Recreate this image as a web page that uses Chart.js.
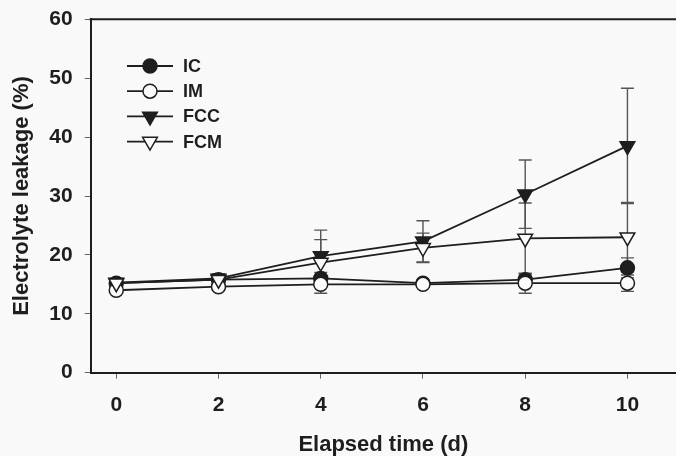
<!DOCTYPE html>
<html>
<head>
<meta charset="utf-8">
<script src="https://cdn.jsdelivr.net/npm/chart.js@4.4.0/dist/chart.umd.min.js"></script>
<style>
  html, body { margin: 0; padding: 0; background: #f9f9f9; }
  #wrap { width: 676px; height: 456px; position: relative; }
</style>
</head>
<body>
<div id="wrap"><canvas id="leakChart"></canvas></div>
<script>
// Electrolyte leakage vs elapsed time (mean +/- SD)
const days = [0, 2, 4, 6, 8, 10];
const xTicks = [0, 2, 4, 6, 8, 10];
const yTicks = [0, 10, 20, 30, 40, 50, 60];

const icMean = [15.2, 15.8, 16.0, 15.2, 15.8, 17.8];
const icErr = [0.5, 0.8, 1.0, 0.5, 0.8, 1.7];
const imMean = [14.0, 14.6, 15.0, 15.0, 15.2, 15.2];
const imErr = [0.5, 0.6, 1.5, 0.5, 1.7, 1.4];
const fccMean = [15.3, 16.0, 19.8, 22.3, 30.3, 38.5];
const fccErr = [0.7, 0.8, 4.4, 3.5, 5.8, 9.8];
const fcmMean = [15.2, 15.8, 18.7, 21.2, 22.8, 23.0];
const fcmErr = [0.6, 0.7, 3.9, 2.5, 6.0, 5.9];

const FONT = "'Liberation Sans', Arial, sans-serif";
const INK = '#1e1e1e';

const toPoints = (ys) => days.map((d, i) => ({ x: d, y: ys[i] }));

const series = (label, ys, err, style, fill, order) => ({
  label: label,
  data: toPoints(ys),
  err: err,
  order: order,
  borderColor: INK,
  borderWidth: 1.8,
  pointStyle: style,
  pointRotation: style === 'triangle' ? 180 : 0,
  pointRadius: style === 'triangle' ? 8.5 : 7,
  pointBorderWidth: 1.5,
  pointBorderColor: INK,
  pointBackgroundColor: fill,
  backgroundColor: fill,
  tension: 0,
  fill: false
});

// error bars drawn under the lines and markers
const errorBars = {
  id: 'errorBars',
  beforeDatasetsDraw(chart) {
    const ctx = chart.ctx;
    const xs = chart.scales.x, ys = chart.scales.y;
    ctx.save();
    ctx.strokeStyle = '#555';
    ctx.lineWidth = 1.4;
    chart.data.datasets.forEach(ds => {
      ds.data.forEach((p, i) => {
        const e = ds.err[i];
        const px = xs.getPixelForValue(p.x);
        const top = ys.getPixelForValue(p.y + e);
        const bot = ys.getPixelForValue(p.y - e);
        ctx.beginPath();
        ctx.moveTo(px, top); ctx.lineTo(px, bot);
        ctx.moveTo(px - 6.5, top); ctx.lineTo(px + 6.5, top);
        ctx.moveTo(px - 6.5, bot); ctx.lineTo(px + 6.5, bot);
        ctx.stroke();
      });
    });
    ctx.restore();
  }
};

// top frame line and the line+marker legend
const frameAndLegend = {
  id: 'frameAndLegend',
  afterDraw(chart) {
    const ctx = chart.ctx;
    const a = chart.chartArea;
    ctx.save();
    ctx.strokeStyle = INK;
    ctx.lineWidth = 2;
    ctx.beginPath();
    ctx.moveTo(a.left - 1, a.top);
    ctx.lineTo(a.right, a.top);
    ctx.stroke();

    chart.data.datasets.forEach((ds, i) => {
      const y = 66 + i * 25.2;
      ctx.strokeStyle = INK;
      ctx.lineWidth = 1.8;
      ctx.beginPath();
      ctx.moveTo(127, y); ctx.lineTo(173, y);
      ctx.stroke();
      ctx.fillStyle = ds.pointBackgroundColor;
      ctx.lineWidth = 1.5;
      Chart.helpers.drawPoint(ctx, {
        pointStyle: ds.pointStyle,
        rotation: ds.pointRotation,
        radius: ds.pointRadius,
        borderWidth: 1.5
      }, 150, y);
      ctx.fillStyle = INK;
      ctx.font = 'bold 18px ' + FONT;
      ctx.textAlign = 'left';
      ctx.textBaseline = 'middle';
      ctx.fillText(ds.label, 183, y + 1);
    });
    ctx.restore();
  }
};

const initChart = () => {
  const canvas = document.getElementById('leakChart');
  new Chart(canvas.getContext('2d'), {
    type: 'line',
    data: {
      datasets: [
        series('IC', icMean, icErr, 'circle', INK, 4),
        series('IM', imMean, imErr, 'circle', '#fbfbfb', 3),
        series('FCC', fccMean, fccErr, 'triangle', INK, 2),
        series('FCM', fcmMean, fcmErr, 'triangle', '#fbfbfb', 1)
      ]
    },
    options: {
      responsive: true,
      maintainAspectRatio: false,
      animation: false,
      layout: { autoPadding: false, padding: { top: 19.3, right: 0, bottom: 0, left: 0 } },
      plugins: {
        legend: { display: false },
        tooltip: { enabled: false }
      },
      scales: {
        x: {
          type: 'linear',
          min: -0.5,
          max: 10.95,
          afterFit: (s) => { s.height = 83.3; s.paddingLeft = 0; s.paddingRight = 0; },
          afterBuildTicks: (s) => { s.ticks = xTicks.map(v => ({ value: v })); },
          border: { display: true, color: INK, width: 2 },
          grid: { drawOnChartArea: false, drawTicks: true, tickLength: 6, color: '#666', lineWidth: 1 },
          ticks: { color: INK, padding: 14, maxRotation: 0, font: { family: FONT, size: 21, weight: 'bold' } },
          title: {
            display: true,
            text: 'Elapsed time (d)',
            color: INK,
            padding: { top: 0, bottom: 0 },
            font: { family: FONT, size: 22, weight: 'bold', lineHeight: 1 }
          }
        },
        y: {
          min: 0,
          max: 60,
          afterFit: (s) => { s.width = 90.7; s.paddingTop = 0; s.paddingBottom = 0; },
          afterBuildTicks: (s) => { s.ticks = yTicks.map(v => ({ value: v })); },
          border: { display: true, color: INK, width: 2 },
          grid: { drawOnChartArea: false, drawTicks: true, tickLength: 6, color: '#666', lineWidth: 1 },
          ticks: { color: INK, padding: 12, font: { family: FONT, size: 21, weight: 'bold' } },
          title: {
            display: true,
            text: 'Electrolyte leakage (%)',
            color: INK,
            padding: { top: 11, bottom: 0 },
            font: { family: FONT, size: 22, weight: 'bold', lineHeight: 1 }
          }
        }
      }
    },
    plugins: [errorBars, frameAndLegend]
  });
};

document.addEventListener('DOMContentLoaded', initChart);
</script>
</body>
</html>
